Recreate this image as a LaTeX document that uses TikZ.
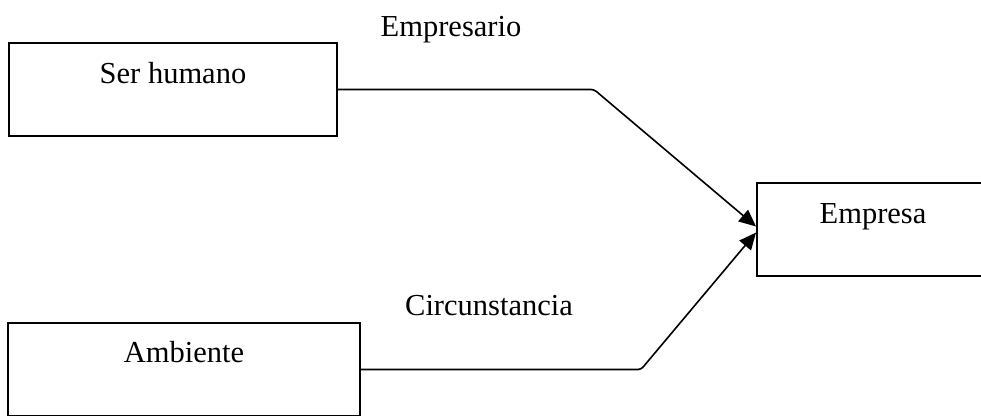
\documentclass[tikz,border=0pt]{standalone}
\usepackage{fontspec}
\setmainfont{Liberation Serif}
\usetikzlibrary{arrows.meta,positioning}
\tikzset{
  box/.style={draw,line width=1.9pt,minimum width=#1,minimum height=93pt,inner sep=0pt},
  boxtext/.style={font=\fontsize{30.5}{36}\selectfont,anchor=base,inner sep=0pt},
  link/.style={line width=1.6pt,rounded corners=3pt,-{Triangle[length=17pt,width=15pt]}}
}
\begin{document}
\begin{tikzpicture}[x=1pt,y=-1pt]
  \useasboundingbox (0,0) rectangle (981,415);
  \clip (0,0) rectangle (981,415);
  % boxes
  \node[box=328pt] (human) at (173,89.5) {};
  \node[box=352pt] (env) at (184,369.5) {};
  \node[box=228pt] (firm) at (871,229.5) {};
  \node[boxtext] at (173,83) {Ser humano};
  \node[boxtext] at (184,362) {Ambiente};
  \node[boxtext] at (873,223) {Empresa};
  % labels over the links
  \node[boxtext] (owner) at (451,36) {Empresario};
  \node[boxtext] (circ) at (489,315) {Circunstancia};
  % links
  \coordinate (bendtop) at (594,89.5);
  \coordinate (bendlow) at (641,369.5);
  \draw[link] (human.east) -- (bendtop) -- ([yshift=3pt]firm.west);
  \draw[link] (env.east) -- (bendlow) -- ([yshift=-3pt]firm.west);
\end{tikzpicture}
\end{document}
